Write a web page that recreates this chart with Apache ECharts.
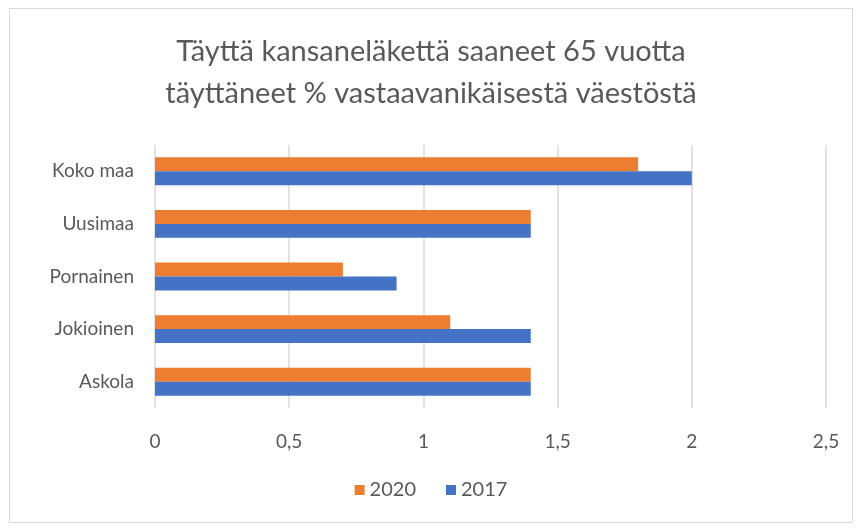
<!DOCTYPE html>
<html>
<head>
<meta charset="utf-8">
<script src="https://cdn.jsdelivr.net/npm/echarts@6/dist/echarts.min.js"></script>
<style>
html, body { margin: 0; padding: 0; background: #fff; }
#chart { width: 862px; height: 531px; }
</style>
</head>
<body>
<div id="chart"></div>
<script>
var categories = ['Askola', 'Jokioinen', 'Pornainen', 'Uusimaa', 'Koko maa'];
var values2020 = [1.4, 1.1, 0.7, 1.4, 1.8];
var values2017 = [1.4, 1.4, 0.9, 1.4, 2.0];

var myChart = echarts.init(document.getElementById('chart'));
var font = 'Lato, Noto Sans, sans-serif';
var option = {
    animation: false,
    title: {
        text: 'Täyttä kansaneläkettä saaneet 65 vuotta\ntäyttäneet % vastaavanikäisestä väestöstä',
        left: 'center',
        top: 26,
        textStyle: {
            fontFamily: font,
            fontSize: 29,
            fontWeight: 'normal',
            color: '#595959',
            lineHeight: 42
        }
    },
    graphic: [{
        type: 'rect',
        shape: { x: 9.5, y: 8.5, width: 843, height: 514 },
        style: { fill: 'none', stroke: '#d9d9d9', lineWidth: 1 },
        silent: true
    }],
    legend: {
        data: ['2020', '2017'],
        bottom: 26,
        left: 'center',
        itemWidth: 10,
        itemHeight: 10,
        itemGap: 30,
        icon: 'rect',
        textStyle: { fontFamily: font, fontSize: 20, color: '#595959' }
    },
    grid: {
        left: 155,
        right: 36,
        top: 145,
        bottom: 123
    },
    xAxis: {
        type: 'value',
        min: 0,
        max: 2.5,
        interval: 0.5,
        axisLine: { show: false },
        axisTick: { show: false },
        splitLine: { lineStyle: { color: '#d9d9d9', width: 1.5 } },
        axisLabel: {
            margin: 24,
            fontFamily: font,
            fontSize: 19,
            color: '#595959',
            formatter: function (v) { return String(v).replace('.', ','); }
        }
    },
    yAxis: {
        type: 'category',
        data: categories,
        axisLine: { show: false },
        axisTick: { show: false },
        axisLabel: {
            margin: 21,
            fontFamily: font,
            fontSize: 19,
            color: '#595959'
        }
    },
    series: [
        {
            name: '2020',
            type: 'bar',
            data: values2020,
            barGap: '0%',
            barCategoryGap: '47%',
            itemStyle: { color: '#ed7d31' }
        },
        {
            name: '2017',
            type: 'bar',
            data: values2017,
            barGap: '0%',
            barCategoryGap: '47%',
            itemStyle: { color: '#4472c4' }
        }
    ]
};
myChart.setOption(option);
</script>
</body>
</html>
